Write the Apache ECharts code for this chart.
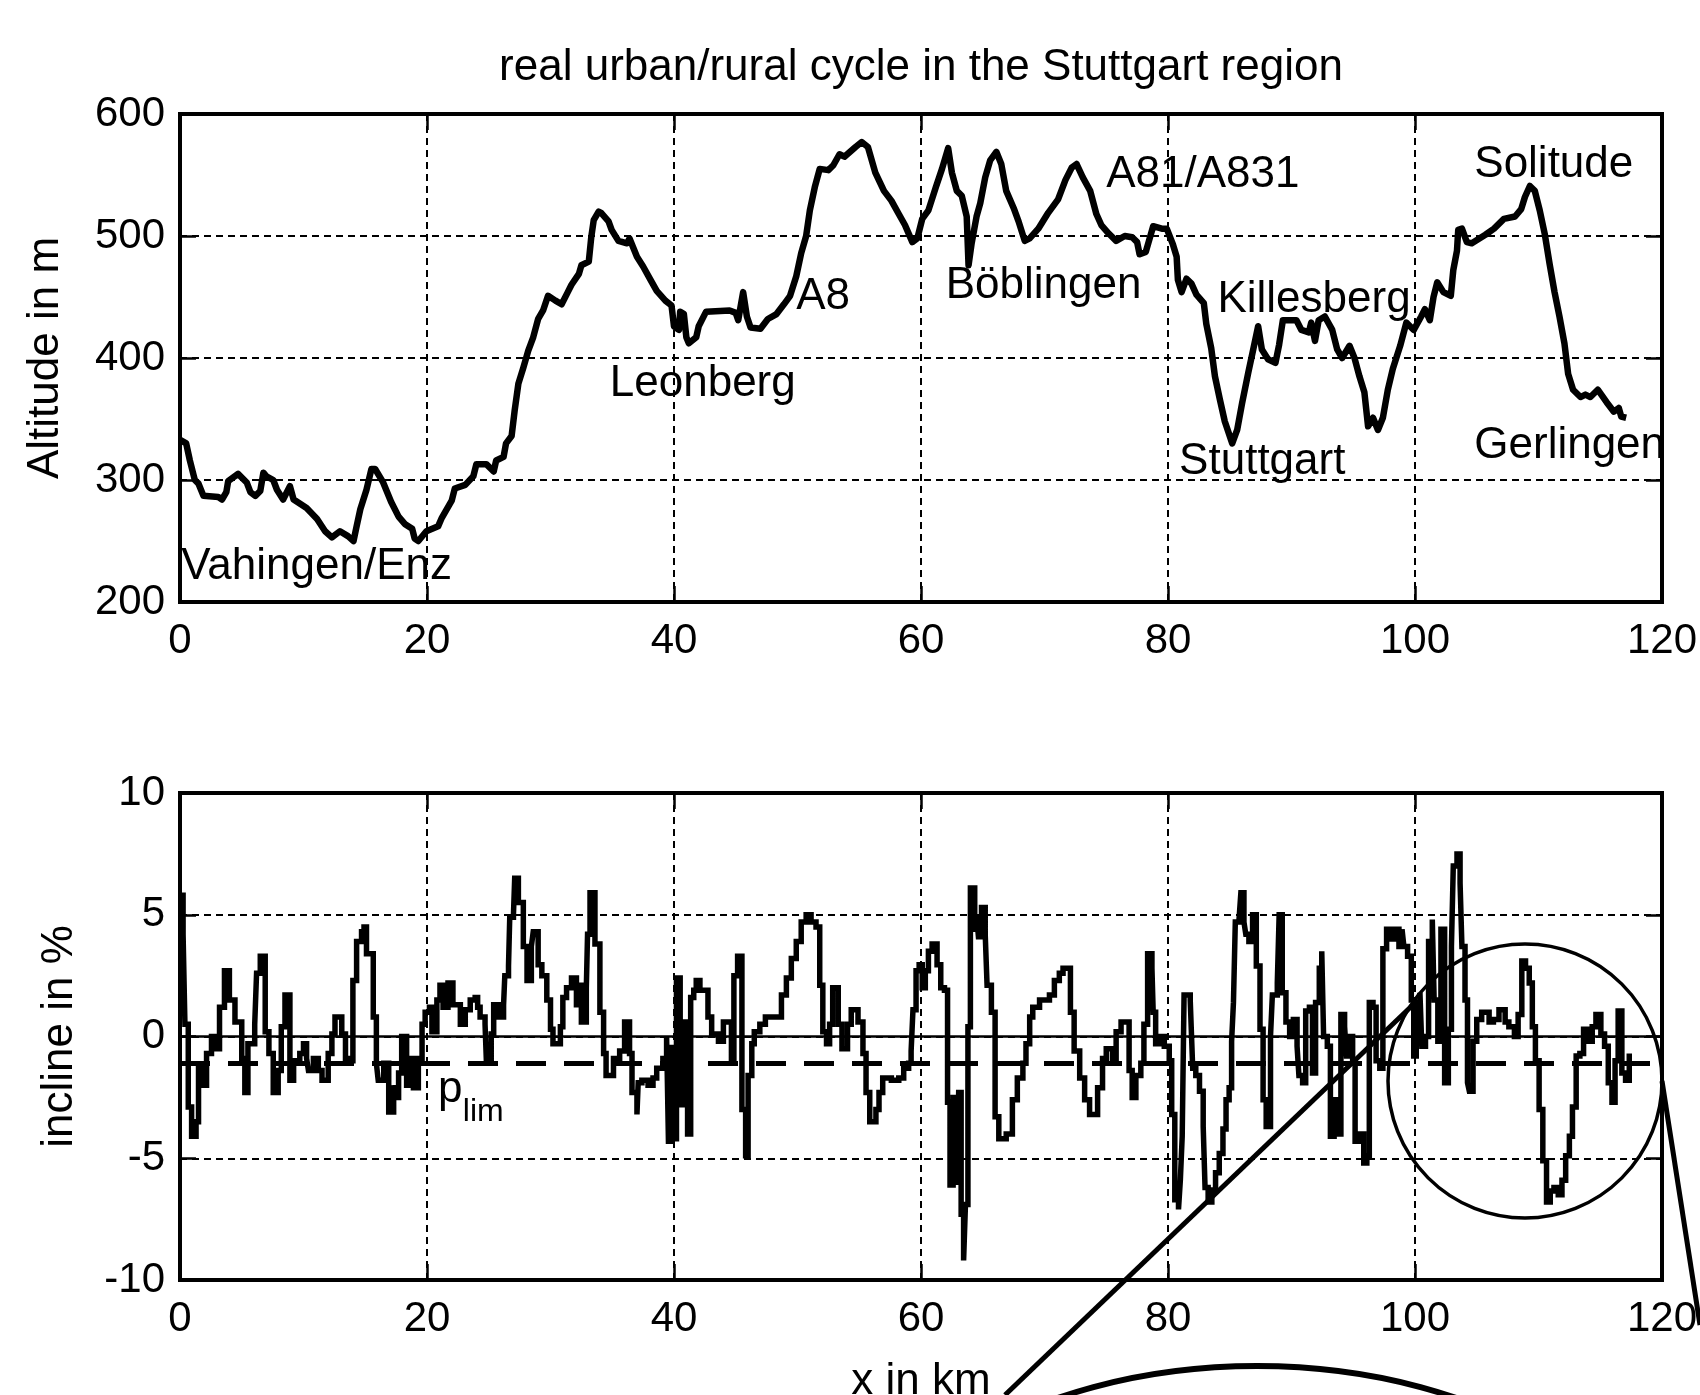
<!DOCTYPE html>
<html><head><meta charset="utf-8">
<script src="https://cdn.jsdelivr.net/npm/echarts@6/dist/echarts.min.js"></script>
<style>html,body{margin:0;padding:0;background:#fff}#c{width:1700px;height:1395px}</style>
</head><body><div id="c"></div>
<script>
const titleText = 'real urban/rural cycle in the Stuttgart region';
const xName = 'x in km';
const altName = 'Altitude in m';
const incName = 'incline in %';
const xTicks = [0, 20, 40, 60, 80, 100, 120];
const altTicks = [200, 300, 400, 500, 600];
const incTicks = [-10, -5, 0, 5, 10];

// altitude profile (km, m)
const altKm = [0.0,0.5,0.8,1.2,1.5,1.9,3.1,3.4,3.75,3.9,4.7,5.4,5.7,6.1,6.5,6.75,7.0,7.55,7.85,8.35,8.9,9.2,10.25,11.1,11.75,12.3,12.95,13.6,14.05,14.3,14.6,15.1,15.5,15.8,16.45,17.1,17.7,18.2,18.8,19.0,19.3,19.95,20.9,21.2,22.0,22.25,23.1,23.75,24.0,24.8,25.4,25.6,26.2,26.4,26.85,27.1,27.4,27.8,28.2,28.6,29.0,29.4,29.8,30.4,30.9,31.4,31.7,32.3,32.5,33.1,33.3,33.5,33.9,34.1,34.7,34.95,35.5,36.2,36.4,37.0,37.5,38.1,38.6,39.3,39.8,40.0,40.4,40.5,40.8,41.0,41.2,41.8,42.0,42.6,44.5,45.0,45.2,45.6,45.9,46.2,47.0,47.6,48.3,48.9,49.4,49.9,50.3,50.7,51.0,51.4,51.8,52.5,52.9,53.4,53.8,54.7,55.2,55.7,56.3,57.0,57.6,58.2,58.7,59.3,59.7,60.1,60.6,61.2,61.7,62.2,62.5,62.9,63.3,63.7,63.85,64.1,64.5,64.8,65.2,65.6,66.1,66.5,66.9,67.5,67.9,68.4,68.8,69.5,70.3,71.1,71.7,72.2,72.6,73.1,73.7,74.2,74.6,75.2,75.8,76.5,77.1,77.5,77.7,78.2,78.4,78.8,79.5,79.9,80.4,80.7,80.8,81.1,81.5,81.9,82.3,82.9,83.1,83.5,83.8,84.2,84.6,85.2,85.6,86.0,86.5,86.9,87.3,87.6,88.1,88.7,89.0,89.3,90.4,90.8,91.4,91.6,91.9,92.2,92.7,93.3,93.7,94.1,94.7,95.1,95.5,95.9,96.2,96.6,97.0,97.4,97.8,98.2,98.8,99.3,99.9,100.5,100.8,101.2,101.5,101.8,102.3,102.9,103.1,103.4,103.5,103.8,104.2,104.6,105.7,106.4,107.2,108.1,108.6,108.9,109.3,109.7,110.1,110.5,110.9,111.3,111.7,112.1,112.4,112.8,113.4,113.8,114.2,114.8,115.5,116.1,116.5,116.7,117.1];
const altM = [333,330,316,300,297,287,286,284,290,299,305,298,290,287,291,306,303,300,292,284,295,284,277,268,258,253,258,254,250,262,276,292,309,309,298,282,270,264,260,252,250,258,262,269,283,293,296,303,313,313,307,316,319,330,336,357,379,392,406,417,432,439,451,447,444,454,460,469,476,479,499,513,520,519,512,505,496,494,498,483,475,464,455,447,443,426,423,438,436,417,412,417,426,438,439,437,431,454,434,425,424,432,436,444,451,467,486,500,521,540,555,554,558,567,565,573,577,573,552,537,529,518,509,495,498,514,521,540,555,572,552,537,533,516,476,494,516,527,548,562,569,559,537,523,512,496,498,506,519,530,546,556,559,548,537,518,509,502,496,500,499,495,485,487,494,508,506,506,493,483,464,454,465,461,452,445,428,408,385,366,348,330,341,363,388,407,426,407,399,396,411,431,431,423,421,429,414,431,434,423,407,400,410,400,385,372,344,351,341,351,374,391,410,429,423,434,440,431,450,462,454,451,472,488,505,506,495,494,501,506,514,516,522,532,541,537,521,502,477,454,434,412,387,374,368,370,368,374,364,356,359,352,351];

// incline (km where level starts, %)
const incKm = [0.0,0.25,0.4,0.67,0.94,1.3,1.5,1.75,2.15,2.55,2.8,3.2,3.6,4.0,4.45,5.0,5.25,5.5,6.05,6.2,6.5,6.9,7.2,7.55,7.95,8.2,8.5,8.9,9.2,9.7,10.0,10.25,10.4,10.8,11.2,11.5,12.0,12.3,12.55,13.1,13.4,13.6,14.0,14.3,14.7,14.9,15.1,15.65,15.9,16.05,16.5,16.9,17.3,17.45,17.7,17.95,18.35,18.6,18.9,19.3,19.6,19.85,20.2,20.4,20.8,21.05,21.3,21.7,22.1,22.7,23.1,23.5,23.9,24.1,24.3,24.7,24.8,25.2,25.4,25.8,26.2,26.3,26.6,26.7,27.0,27.1,27.4,27.8,28.1,28.45,28.6,29.0,29.3,29.7,30.0,30.2,30.8,31.0,31.3,31.7,32.1,32.3,32.5,32.9,33.0,33.2,33.6,34.0,34.3,34.5,35.1,35.6,36.0,36.4,36.6,37.0,37.1,37.4,37.9,38.3,38.6,39.1,39.4,39.55,39.75,39.95,40.2,40.5,40.85,41.1,41.35,41.6,41.8,42.1,42.75,43.05,43.6,44.0,44.65,44.85,45.15,45.5,45.8,46.0,46.3,46.5,46.95,47.4,48.4,48.7,49.1,49.5,49.9,50.3,50.7,51.1,51.5,51.8,52.05,52.35,52.6,52.85,53.3,53.6,54.05,54.35,54.9,55.3,55.55,55.85,56.35,56.6,56.9,57.6,58.2,58.6,59.0,59.2,59.35,59.6,59.85,60.1,60.35,60.6,60.9,61.3,61.6,61.9,62.15,62.35,62.6,62.9,63.05,63.25,63.45,63.6,63.8,64.0,64.35,64.5,64.65,64.9,65.2,65.35,65.7,66.0,66.3,66.9,67.4,67.8,68.25,68.5,68.8,69.05,69.6,70.1,70.4,70.8,71.2,71.5,72.1,72.4,72.85,73.25,73.65,74.3,74.7,75.0,75.5,75.8,76.2,76.85,77.1,77.4,77.8,78.05,78.35,78.7,78.8,79.0,79.3,79.7,80.1,80.3,80.55,80.85,81.0,81.15,81.3,81.8,81.9,82.0,82.25,82.55,82.85,83.0,83.25,83.55,83.85,84.15,84.45,84.7,84.95,85.15,85.3,85.45,85.75,85.9,86.15,86.3,86.55,86.85,87.15,87.45,87.7,87.95,88.3,88.45,88.85,89.0,89.25,89.55,89.85,90.15,90.45,90.6,90.9,91.15,91.45,91.7,91.95,92.25,92.45,92.6,92.9,93.15,93.45,93.7,94.0,94.3,94.45,94.7,94.95,95.15,95.55,95.85,96.1,96.3,96.6,96.85,97.15,97.4,97.7,98.1,98.4,98.7,98.95,99.1,99.4,99.7,99.9,100.1,100.4,100.55,100.85,101.1,101.4,101.55,101.85,102.1,102.4,102.7,102.95,103.1,103.4,103.65,103.8,104.05,104.25,104.4,104.7,105.0,105.4,106.0,106.35,106.8,107.3,107.6,108.05,108.35,108.65,108.95,109.25,109.5,109.75,110.05,110.35,110.65,110.95,111.25,111.6,111.9,112.2,112.5,112.75,113.05,113.35,113.65,113.95,114.35,114.65,115.05,115.35,115.65,115.95,116.2,116.45,116.75,117.05,117.35];
const incPct = [5.8,4.2,0.5,-2.9,-4.1,-3.5,-1.3,-2.0,-0.7,0.0,-0.5,1.2,2.7,1.5,0.6,-0.9,-2.3,-0.3,0.5,2.6,3.3,0.2,-0.7,-2.3,-1.4,0.4,1.7,-1.8,-1.0,-0.7,-0.3,-0.9,-1.4,-0.9,-1.4,-1.8,-0.7,0.1,0.8,0.1,-0.9,-1.0,2.3,3.9,4.3,4.5,3.4,0.8,-1.1,-1.8,-1.1,-3.1,-2.0,-2.5,-1.5,0.0,-2.0,-0.9,-2.1,-0.9,0.5,1.0,1.2,0.2,1.5,2.1,1.2,2.2,1.3,0.5,1.1,1.5,1.6,1.2,0.8,0.5,-0.9,0.1,1.3,0.8,1.3,2.5,2.9,4.9,5.0,6.5,5.5,3.7,2.3,3.7,4.3,2.95,2.5,1.5,0.3,-0.3,0.4,1.6,2.0,2.4,1.3,2.1,0.6,2.0,4.2,5.9,3.8,1.0,-0.7,-1.6,-0.9,-0.6,0.6,-0.7,-2.3,-3.2,-1.9,-1.8,-2.0,-1.7,-1.3,-0.9,0.0,-4.3,-0.45,-4.2,2.4,-2.8,0.6,-4.0,1.6,1.9,2.3,1.9,0.8,0.1,-0.2,0.6,-0.9,2.5,3.3,-3.0,-4.9,-1.6,-0.3,0.2,0.5,0.8,0.8,1.7,2.4,3.2,3.9,4.7,5.0,4.7,4.5,2.1,0.2,-0.3,0.5,2.0,0.5,-0.5,0.5,1.1,0.6,-0.7,-2.3,-3.5,-3.0,-2.3,-1.7,-1.8,-1.7,-1.3,-1.1,-0.6,1.1,2.7,2.95,2.0,2.7,3.5,3.8,2.95,2.0,1.9,-2.7,-6.1,-2.5,-6.1,-2.3,-7.3,-9.2,-6.9,0.4,6.1,4.3,5.0,4.1,5.3,4.2,2.1,1.0,-3.3,-4.2,-4.0,-2.6,-1.7,-1.1,-0.3,0.8,1.2,1.5,1.5,1.7,2.3,2.6,2.8,1.0,-0.6,-1.7,-2.6,-3.2,-2.1,-0.9,-0.5,-0.9,0.2,0.6,-1.4,-2.5,-1.6,-1.1,0.5,3.4,2.8,1.0,-0.3,0.0,-0.4,-1.0,-3.2,-6.7,-7.1,-5.9,-4.1,1.7,1.5,0.1,-1.3,-1.6,-2.25,-3.7,-6.2,-6.8,-6.3,-5.6,-4.8,-3.8,-2.6,-2.1,-0.2,1.4,4.7,4.8,5.9,4.7,4.2,3.9,5.0,2.9,0.3,-2.6,-3.7,0.0,1.7,2.2,5.0,1.8,0.6,0.0,0.7,-0.4,-1.6,-1.9,1.05,1.2,-1.5,1.4,2.8,3.5,0.0,-0.4,-4.1,-2.6,-4.0,0.9,0.4,-0.8,0.0,-1.0,-4.3,-4.0,-5.2,-4.9,1.4,1.2,-1.0,-1.3,3.6,4.4,4.0,4.4,3.7,4.4,3.7,3.3,1.5,-0.8,1.4,1.8,-0.4,0.0,3.9,4.8,1.5,-0.2,4.4,-1.9,0.3,3.7,7.0,7.5,6.3,3.7,1.5,-1.9,-2.25,-0.2,0.7,1.0,0.6,0.7,1.1,0.6,0.4,0.0,0.9,3.1,2.8,2.2,0.4,-1.0,-3.0,-5.1,-6.8,-6.35,-6.2,-6.5,-5.9,-4.9,-4.1,-2.9,-0.8,-0.7,0.3,-0.2,0.4,0.9,0.1,-0.4,-1.9,-2.7,-1.0,1.05,-1.5,-1.8,-0.7];
const pLim = -1.1;

// place annotations on the altitude chart (left edge km, altitude of text centre)
const placeNames = ['Vahingen/Enz','Leonberg','A8','Böblingen','A81/A831','Killesberg','Solitude','Stuttgart','Gerlingen'];
const placeKm =    [0.1, 34.8, 49.9, 62.0, 75.0, 84.0, 104.8, 80.9, 104.8];
const placeAlt =   [229, 379, 450, 459, 550, 448, 558, 315, 328];
// p_lim label on the incline chart
const limNames = ['p', 'lim'];
const limKm = [20.9, 22.9];
const limPct = [-2.2, -3.1];

const FONT = '"Liberation Sans", Arial, Helvetica, sans-serif';
const G = [{left:180, top:114, width:1482, height:488}, {left:180, top:793, width:1482, height:487}];
const tickStyle = {show:true, inside:true, length:16, lineStyle:{color:'#000', width:2.5}};
const noLine = {show:false, onZero:false};
const gridLine = {show:true, lineStyle:{color:'#000', width:2, type:[7,5]}};
const lab = {fontSize:42, color:'#000', fontFamily:FONT};
const nameStyle = {fontSize:44, color:'#000', fontFamily:FONT};

function rng(t){ return {min:t[0], max:t[t.length-1], interval:t[1]-t[0]}; }
function xMain(gi, name){
  return Object.assign({type:'value', gridIndex:gi, position:'bottom', axisLine:noLine, axisTick:tickStyle,
    axisLabel:Object.assign({margin:18}, lab), splitLine:gridLine,
    name:name, nameLocation:'middle', nameGap:80, nameTextStyle:nameStyle}, rng(xTicks));
}
function xTop(gi){
  return Object.assign({type:'value', gridIndex:gi, position:'top', axisLine:noLine, axisTick:tickStyle,
    axisLabel:{show:false}, splitLine:{show:false}}, rng(xTicks));
}
function yMain(gi, t, name, gap){
  return Object.assign({type:'value', gridIndex:gi, position:'left', axisLine:noLine, axisTick:tickStyle,
    axisLabel:Object.assign({margin:15}, lab), splitLine:gridLine,
    name:name, nameLocation:'middle', nameGap:gap, nameTextStyle:nameStyle}, rng(t));
}
function yRight(gi, t){
  return Object.assign({type:'value', gridIndex:gi, position:'right', axisLine:noLine, axisTick:tickStyle,
    axisLabel:{show:false}, splitLine:{show:false}}, rng(t));
}

const labelBase = {show:true, position:'inside', align:'left', verticalAlign:'middle', formatter:'{b}', color:'#000', opacity:1, fontFamily:FONT, textBorderWidth:0};

const chart = echarts.init(document.getElementById('c'), null, {renderer:'canvas'});
chart.setOption({
  animation:false,
  backgroundColor:'#fff',
  grid: G.map(g => Object.assign({show:true, borderColor:'#000', borderWidth:4, backgroundColor:'transparent', containLabel:false, outerBoundsMode:'none'}, g)),
  xAxis: [xMain(0, ''), xTop(0), xMain(1, xName), xTop(1)],
  yAxis: [yMain(0, altTicks, altName, 112), yRight(0, altTicks), yMain(1, incTicks, incName, 98), yRight(1, incTicks)],
  series: [
    {type:'line', name:'altitude', xAxisIndex:0, yAxisIndex:0, showSymbol:false, silent:true,
     data: altKm.map((k,i)=>[k, altM[i]]),
     lineStyle:{color:'#000', width:6.5, join:'round'}},
    {type:'line', name:'incline', xAxisIndex:2, yAxisIndex:2, showSymbol:false, silent:true, step:'end',
     data: incKm.map((k,i)=>[k, incPct[i]]),
     lineStyle:{color:'#000', width:5.5, join:'miter'},
     markLine:{silent:true, symbol:['none','none'], label:{show:false},
       data:[{yAxis:0, lineStyle:{color:'#000', width:2.5, type:'solid'}},
             {yAxis:pLim, lineStyle:{color:'#000', width:5, type:[30,18]}}]}},
    {type:'scatter', xAxisIndex:0, yAxisIndex:0, symbolSize:0, silent:true, z:5, itemStyle:{opacity:1},
     data: placeNames.map((n,i)=>({name:n, value:[placeKm[i], placeAlt[i]]})),
     label:Object.assign({fontSize:44}, labelBase)},
    {type:'scatter', xAxisIndex:2, yAxisIndex:2, symbolSize:0, silent:true, z:5, itemStyle:{opacity:1},
     data: limNames.map((n,i)=>({name:n, value:[limKm[i], limPct[i]], label:{fontSize: i===0 ? 44 : 32}})),
     label:Object.assign({fontSize:44}, labelBase)}
  ],
  graphic: [
    {type:'text', x:921, y:68, z:10, style:{text:titleText, fontSize:44, fontFamily:FONT, fill:'#000', align:'center', verticalAlign:'middle'}},
    {type:'circle', z:10, shape:{cx:1525, cy:1081, r:137}, style:{fill:null, stroke:'#000', lineWidth:3.5}},
    {type:'line', z:10, shape:{x1:1005, y1:1395, x2:1418, y2:1000}, style:{stroke:'#000', lineWidth:5}},
    {type:'line', z:10, shape:{x1:1662, y1:1081, x2:1700, y2:1325}, style:{stroke:'#000', lineWidth:5}},
    {type:'ellipse', z:10, shape:{cx:1257, cy:1634, rx:420, ry:268}, style:{fill:null, stroke:'#000', lineWidth:6}}
  ]
});
</script></body></html>
